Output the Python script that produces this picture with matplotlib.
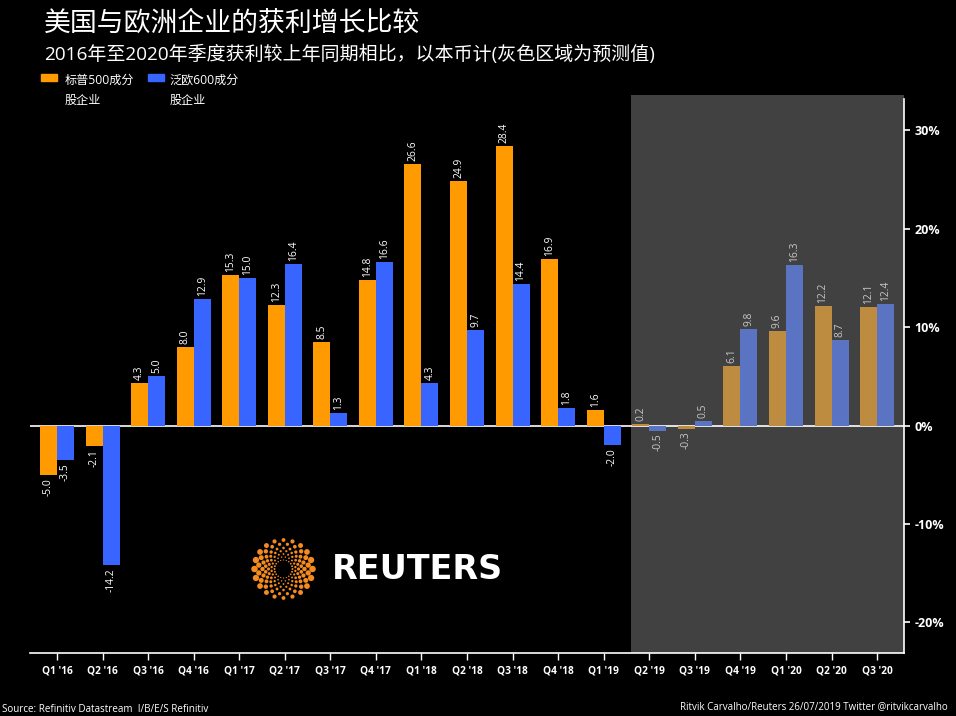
import numpy as np
import matplotlib
matplotlib.use('Agg')
import matplotlib.pyplot as plt
from matplotlib.patches import Rectangle

plt.rcParams['font.family'] = ['Open Sans', 'Noto Sans CJK SC', 'DejaVu Sans']

quarters = ["Q1 '16", "Q2 '16", "Q3 '16", "Q4 '16", "Q1 '17", "Q2 '17", "Q3 '17", "Q4 '17",
            "Q1 '18", "Q2 '18", "Q3 '18", "Q4 '18", "Q1 '19", "Q2 '19", "Q3 '19", "Q4 '19",
            "Q1 '20", "Q2 '20", "Q3 '20"]
sp500 = [-5.0, -2.1, 4.3, 8.0, 15.3, 12.3, 8.5, 14.8, 26.6, 24.9, 28.4, 16.9, 1.6,
         0.2, -0.3, 6.1, 9.6, 12.2, 12.1]
stoxx600 = [-3.5, -14.2, 5.0, 12.9, 15.0, 16.4, 1.3, 16.6, 4.3, 9.7, 14.4, 1.8, -2.0,
            -0.5, 0.5, 9.8, 16.3, 8.7, 12.4]
first_forecast = 13
yticks = [-20, -10, 0, 10, 20, 30]
ytick_labels = ['-20%', '-10%', '0%', '10%', '20%', '30%']

W, H = 956, 716
ORANGE, BLUE = '#ff9b00', '#3864ff'
ORANGE_F, BLUE_F = '#be8c41', '#5a73c3'
GREY = '#414141'


def fx(x):
    return x / W


def fy(y):
    return 1 - y / H


fig = plt.figure(figsize=(W / 100, H / 100), dpi=100, facecolor='black')

# axes box in pixels: x 30-903.5, y 95-653
ax = fig.add_axes([fx(30), fy(653), (903.5 - 30) / W, (653 - 95) / H], facecolor='black')
x = np.arange(len(quarters))
ax.set_xlim((30 - 57) / 45.56, (903.5 - 57) / 45.56)
ax.set_ylim(-23.1, 33.6)

# forecast shading
ax.axvspan(first_forecast - 0.4, ax.get_xlim()[1], color=GREY, lw=0, zorder=0)
ax.axhline(0, color='white', lw=1.2, zorder=1)

bw = 0.373
for i in x:
    fc = i >= first_forecast
    ax.bar(i - bw / 2, sp500[i], bw, color=ORANGE_F if fc else ORANGE, lw=0, zorder=2)
    ax.bar(i + bw / 2, stoxx600[i], bw, color=BLUE_F if fc else BLUE, lw=0, zorder=2)
    for off, v in ((-bw / 2, sp500[i]), (bw / 2, stoxx600[i])):
        ax.annotate(f'{v:.1f}', (i + off, v), xytext=(0, 2.2 if v >= 0 else -2.2),
                    textcoords='offset points', rotation=90, ha='center',
                    va='bottom' if v >= 0 else 'top', fontsize=7.4,
                    color='#c8c8c8' if fc else 'white', zorder=3)

for s in ('top', 'left'):
    ax.spines[s].set_visible(False)
ax.spines['bottom'].set_color('white')
ax.spines['bottom'].set_linewidth(1.2)
ax.spines['right'].set_color('white')
ax.spines['right'].set_linewidth(1.2)
ax.spines['right'].set_bounds(-23.1, 33.2)

ax.set_xticks(x)
ax.set_xticklabels(quarters, fontsize=7.3, fontweight='bold', color='white')
ax.tick_params(axis='x', length=5, width=1, color='white', pad=4)
ax.yaxis.tick_right()
ax.set_yticks(yticks)
ax.set_yticklabels(ytick_labels, fontsize=9, fontweight='bold', color='white')
ax.tick_params(axis='y', length=4, width=1.2, color='white', pad=4)

# titles
fig.text(fx(44), fy(24), '美国与欧洲企业的获利增长比较', fontsize=19.35, color='white', va='center')
fig.text(fx(44), fy(54), '2016年至2020年季度获利较上年同期相比，以本币计(灰色区域为预测值)',
         fontsize=13.67, color='white', va='center')

# legend
fig.patches.append(Rectangle((fx(41), fy(81)), 16 / W, 7 / H, color=ORANGE, transform=fig.transFigure))
fig.patches.append(Rectangle((fx(148), fy(81)), 16 / W, 7 / H, color=BLUE, transform=fig.transFigure))
for px, label in ((65, '标普500成分'), (170, '泛欧600成分')):
    fig.text(fx(px), fy(80), label, fontsize=8.7, color='white', va='center')
    fig.text(fx(px), fy(100), '股企业', fontsize=8.7, color='white', va='center')

# footer
fig.text(fx(2), fy(709), 'Source: Refinitiv Datastream  I/B/E/S Refinitiv', fontsize=7.15, color='white', va='center')
fig.text(fx(948), fy(707), 'Ritvik Carvalho/Reuters 26/07/2019 Twitter @ritvikcarvalho', fontsize=7,
         color='white', va='center', ha='right')

# reuters logo: rings of dots around (283.5, 569), bigger towards the outside and the sides
logo = fig.add_axes([0, 0, 1, 1], facecolor='none')
logo.set_xlim(0, W)
logo.set_ylim(H, 0)
logo.axis('off')
ring_radius = [9, 12, 15, 18, 21, 25, 29]
ring_size = [2, 3, 5, 7, 10, 15, 22]
for k, (r, sz) in enumerate(zip(ring_radius, ring_size)):
    ang = np.linspace(0, 2 * np.pi, 20, endpoint=False) + (k % 2) * np.pi / 20
    sizes = sz * (0.35 + 0.65 * np.cos(ang) ** 2)
    logo.scatter(283.5 + r * np.cos(ang), 569 + r * np.sin(ang), s=sizes, color='#f58a1f', lw=0)
logo.text(332, 569.5, 'REUTERS', fontsize=24, fontweight='bold', family='DejaVu Sans', color='white', va='center')

fig.savefig('out.png', dpi=100, facecolor='black')
